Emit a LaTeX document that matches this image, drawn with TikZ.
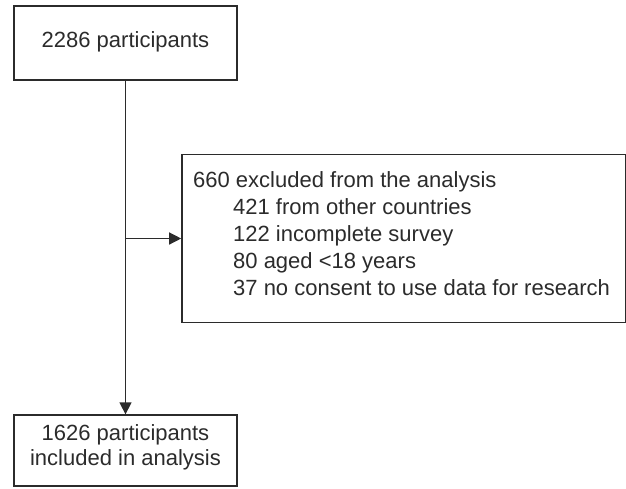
\documentclass[tikz,border=0pt]{standalone}
\usepackage{fontspec}
\setmainfont{Liberation Sans}
\usetikzlibrary{arrows.meta}
\definecolor{ink}{HTML}{2B2B2B}
\begin{document}
\begin{tikzpicture}[x=1pt,y=-1pt,
  every node/.style={font=\fontsize{22}{26}\selectfont, text=ink},
  box/.style={draw=ink, line width=1.3pt, rectangle, inner sep=0pt},
  txt/.style={inner sep=0pt, anchor=mid west},
  conn/.style={draw=ink, line width=1.3pt, -{Triangle[length=12pt,width=12pt]}}]
\useasboundingbox (0,0) rectangle (626,488);
\node[box, minimum width=223pt, minimum height=74pt] (top) at (125.5,43) {};
\node[inner sep=0pt, anchor=mid] (toptext) at (125.5,45) {2286 participants};
\node[box, minimum width=223pt, minimum height=71pt] (bot) at (125.5,450.5) {};
\node[inner sep=0pt, anchor=mid] (bot1) at (125.5,438) {1626 participants};
\node[inner sep=0pt, anchor=mid] (bot2) at (125.5,463) {included in analysis};
\node[box, minimum width=443.3pt, minimum height=167.7pt] (excl) at (403.5,238.5) {};
\node[txt] (e0) at (193,185) {660 excluded from the analysis};
\node[txt] (e1) at (233,212) {421 from other countries};
\node[txt] (e2) at (233,239) {122 incomplete survey};
\node[txt] (e3) at (233,266) {80 aged <18 years};
\node[txt] (e4) at (233,293) {37 no consent to use data for research};
\coordinate (j) at (top.south |- excl.west);
\draw[conn] (top.south) -- (bot.north);
\draw[conn] (j) -- (excl.west);
\end{tikzpicture}
\end{document}
